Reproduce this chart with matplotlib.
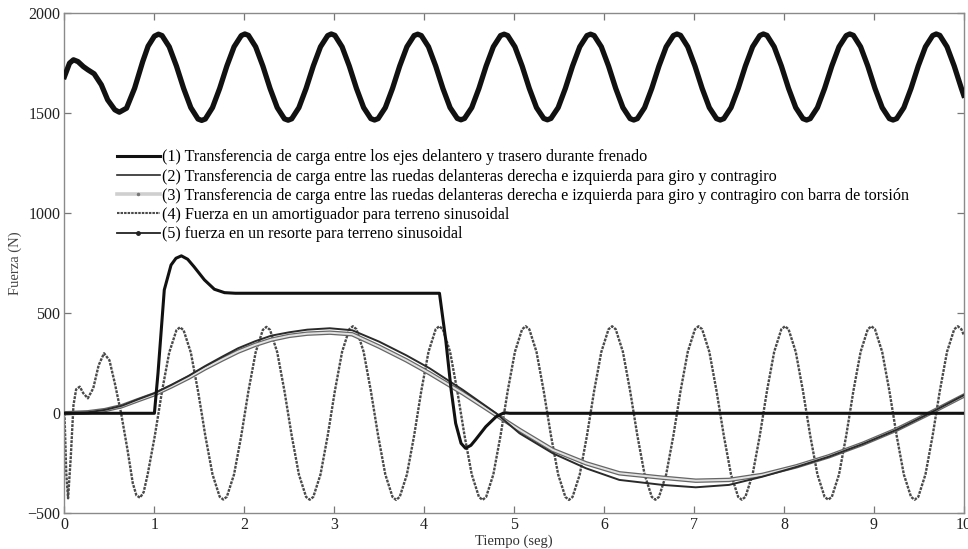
import matplotlib
matplotlib.use("Agg")
import matplotlib.pyplot as plt
import matplotlib.patheffects as pe
from matplotlib.lines import Line2D

plt.rcParams['font.family'] = ['Liberation Serif', 'DejaVu Serif']

labels = [
    "(1) Transferencia de carga entre los ejes delantero y trasero durante frenado",
    "(2) Transferencia de carga entre las ruedas delanteras derecha e izquierda para giro y contragiro",
    "(3) Transferencia de carga entre las ruedas delanteras derecha e izquierda para giro y contragiro con barra de torsión",
    "(4) Fuerza en un amortiguador para terreno sinusoidal",
    "(5) fuerza en un resorte para terreno sinusoidal",
]

# (1) braking load transfer
t_brake = [0, 1.0, 1.04, 1.11, 1.185, 1.24, 1.30, 1.37, 1.44, 1.556, 1.667, 1.78, 1.9,
           4.17, 4.24, 4.30, 4.35, 4.41, 4.46, 4.52, 4.57, 4.685, 4.80, 4.89, 4.95, 10.0]
f_brake = [0, 0, 200, 617, 741, 775, 787, 770, 733, 667, 620, 603, 600,
           600, 366, 117, -50, -150, -175, -160, -133, -67, -17, 3, 0, 0]

# (2) and (3) lateral load transfer, without / with torsion bar
t_turn = [0, 0.26, 0.45, 0.64, 0.82, 1.0, 1.19, 1.38, 1.56, 1.75, 1.93, 2.12, 2.3, 2.5,
          2.7, 2.95, 3.2, 3.5, 3.8, 4.06, 4.43, 4.8, 5.06, 5.43, 5.8, 6.17, 6.65, 7.02,
          7.39, 7.76, 8.14, 8.5, 8.88, 9.25, 9.62, 10.0]
f_turn = [0, 5, 17, 38, 70, 100, 142, 187, 235, 282, 325, 360, 388, 405,
          418, 425, 415, 358, 290, 225, 117, 0, -100, -200, -275, -333, -358, -370,
          -358, -317, -268, -217, -153, -83, 0, 90]
f_turn_bar = [0, 5, 16, 36, 66, 95, 135, 178, 224, 268, 308, 342, 368, 387,
              398, 403, 395, 333, 265, 200, 100, -8, -83, -183, -250, -300, -322, -337,
              -333, -308, -265, -215, -152, -82, 0, 88]

# time samples of the steady part of (4) and (5), one row per cycle
t_wave = [
    1.045, 1.085, 1.165, 1.245, 1.285, 1.325, 1.405, 1.485, 1.526, 1.566, 1.646, 1.726, 1.766, 1.806, 1.886, 1.966,
    2.006, 2.046, 2.126, 2.206, 2.246, 2.286, 2.366, 2.446, 2.487, 2.527, 2.607, 2.687, 2.727, 2.767, 2.847, 2.927,
    2.967, 3.007, 3.087, 3.167, 3.207, 3.247, 3.327, 3.407, 3.448, 3.488, 3.568, 3.648, 3.688, 3.728, 3.808, 3.888,
    3.928, 3.968, 4.048, 4.128, 4.168, 4.208, 4.288, 4.368, 4.409, 4.449, 4.529, 4.609, 4.649, 4.689, 4.769, 4.849,
    4.889, 4.929, 5.009, 5.089, 5.129, 5.169, 5.249, 5.329, 5.370, 5.410, 5.490, 5.570, 5.610, 5.650, 5.730, 5.810,
    5.850, 5.890, 5.970, 6.050, 6.090, 6.130, 6.210, 6.290, 6.331, 6.371, 6.451, 6.531, 6.571, 6.611, 6.691, 6.771,
    6.811, 6.851, 6.931, 7.011, 7.051, 7.091, 7.171, 7.251, 7.292, 7.332, 7.412, 7.492, 7.532, 7.572, 7.652, 7.732,
    7.772, 7.812, 7.892, 7.972, 8.012, 8.052, 8.132, 8.212, 8.253, 8.293, 8.373, 8.453, 8.493, 8.533, 8.613, 8.693,
    8.733, 8.773, 8.853, 8.933, 8.973, 9.013, 9.093, 9.173, 9.214, 9.254, 9.334, 9.414, 9.454, 9.494, 9.574, 9.654,
    9.694, 9.734, 9.814, 9.894, 9.934, 9.974, 10.0,
]

# (4) damper force
t_damp0 = [0, 0.02, 0.04, 0.07, 0.10, 0.13, 0.17, 0.21, 0.26, 0.32, 0.38, 0.44, 0.50,
           0.56, 0.63, 0.70, 0.76, 0.80, 0.84, 0.88, 0.925, 1.005]
f_damp0 = [0, -300, -425, -220, 40, 120, 133, 100, 75, 125, 240, 300, 265,
           150, 0, -180, -350, -410, -422, -395, -306, -112]
f_damp = [
    0, 111, 304, 415, 430, 415, 304, 111, 0, -112, -305, -417, -431, -417, -305, -112,
    0, 112, 305, 417, 432, 417, 305, 112, 0, -112, -306, -418, -432, -418, -306, -112,
    0, 112, 307, 420, 435, 420, 307, 112, 0, -112, -306, -418, -433, -418, -306, -112,
    0, 112, 307, 420, 435, 420, 307, 112, 0, -112, -306, -418, -433, -418, -306, -112,
    0, 112, 307, 420, 435, 420, 307, 112, 0, -112, -306, -418, -433, -418, -306, -112,
    0, 112, 307, 420, 435, 420, 307, 112, 0, -112, -306, -418, -432, -418, -306, -112,
    0, 112, 307, 420, 435, 420, 307, 112, 0, -112, -306, -418, -432, -418, -306, -112,
    0, 112, 307, 420, 435, 420, 307, 112, 0, -112, -306, -418, -432, -418, -306, -112,
    0, 112, 307, 420, 435, 420, 307, 112, 0, -112, -306, -418, -432, -418, -306, -112,
    0, 112, 307, 420, 435, 420, 392,
]

# (5) spring force
t_spring0 = [0, 0.056, 0.10, 0.15, 0.21, 0.26, 0.33, 0.41, 0.48, 0.56, 0.61, 0.69,
             0.78, 0.87, 0.93, 1.0]
f_spring0 = [1683, 1750, 1767, 1758, 1733, 1717, 1697, 1642, 1567, 1517, 1505, 1525,
             1625, 1758, 1835, 1885]
f_spring = [
    1895, 1888, 1832, 1736, 1680, 1624, 1528, 1471, 1464, 1471, 1528, 1624, 1680, 1736, 1832, 1888,
    1896, 1889, 1832, 1736, 1680, 1624, 1528, 1472, 1465, 1472, 1528, 1624, 1680, 1736, 1832, 1888,
    1896, 1889, 1832, 1736, 1680, 1624, 1528, 1473, 1466, 1473, 1528, 1624, 1680, 1736, 1832, 1888,
    1895, 1888, 1832, 1736, 1680, 1624, 1528, 1474, 1467, 1474, 1528, 1624, 1680, 1736, 1832, 1888,
    1895, 1888, 1832, 1736, 1680, 1624, 1528, 1474, 1467, 1474, 1528, 1624, 1680, 1736, 1832, 1888,
    1895, 1888, 1832, 1736, 1680, 1624, 1528, 1473, 1466, 1473, 1528, 1624, 1680, 1736, 1832, 1888,
    1896, 1889, 1832, 1736, 1680, 1624, 1528, 1473, 1466, 1473, 1528, 1624, 1680, 1736, 1832, 1888,
    1896, 1889, 1832, 1736, 1680, 1624, 1528, 1473, 1466, 1473, 1528, 1624, 1680, 1736, 1832, 1888,
    1896, 1889, 1832, 1736, 1680, 1624, 1528, 1473, 1466, 1473, 1528, 1624, 1680, 1736, 1832, 1888,
    1896, 1889, 1832, 1736, 1680, 1624, 1590,
]

fig = plt.figure(figsize=(9.68, 5.49), dpi=100)
ax = fig.add_axes([0.0666, 0.065, 0.929, 0.911])

ax.plot(t_damp0 + t_wave, f_damp0 + f_damp, color='#4a4a4a', lw=1.7,
        ls=(0, (1.2, 0.5)), zorder=2)
ax.plot(t_turn, f_turn_bar, color='#e2e2e2', lw=1.4, zorder=3,
        path_effects=[pe.Stroke(linewidth=3.2, foreground='#666666'), pe.Normal()])
ax.plot(t_turn, f_turn, color='#2a2a2a', lw=1.4, zorder=3)
ax.plot(t_brake, f_brake, color='#111111', lw=2.2, zorder=4)
ax.plot(t_spring0 + t_wave, f_spring0 + f_spring, color='#111111', lw=3.8,
        solid_joinstyle='round', zorder=4)

ax.set_xlim(0, 10)
ax.set_ylim(-500, 2000)
ax.set_xticks(range(0, 11))
ax.set_yticks([-500, 0, 500, 1000, 1500, 2000])
ax.tick_params(direction='in', length=5, width=0.9, color='#777777',
               top=True, right=True, labelsize=11.5, labelcolor='#222222', pad=3)
for s in ax.spines.values():
    s.set_color('#8a8a8a')
    s.set_linewidth(1.0)

ax.set_xlabel('Tiempo (seg)', fontsize=10.5, color='#333333', labelpad=1)
ax.set_ylabel('Fuerza (N)', fontsize=10.5, color='#444444', labelpad=4)

handles = [
    Line2D([], [], color='#111111', lw=2.2),
    Line2D([], [], color='#2a2a2a', lw=1.2),
    Line2D([], [], color='#cfcfcf', lw=2.6, marker='.', ms=3, mfc='#777777', mec='#777777'),
    Line2D([], [], color='#4a4a4a', lw=1.5, ls=(0, (1.2, 0.5))),
    Line2D([], [], color='#222222', lw=1.3, marker='.', ms=5),
]
ax.legend(handles, labels, loc='upper left', bbox_to_anchor=(0.058, 0.7278),
          frameon=False, fontsize=11.6, handlelength=2.67, handletextpad=0.15,
          labelspacing=0.2, borderaxespad=0, borderpad=0)

fig.savefig('out.png', dpi=100)
